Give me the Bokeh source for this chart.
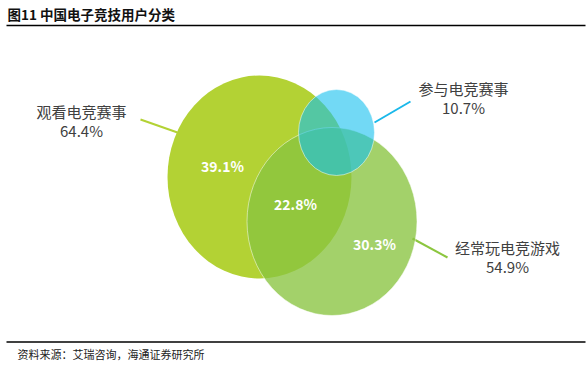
from bokeh.plotting import figure
from bokeh.models import Range1d
from bokeh.core.properties import value
from bokeh.embed import file_html
from bokeh.resources import INLINE

# ---- data ----
title_text = "图11 中国电子竞技用户分类"
source_text = "资料来源：艾瑞咨询，海通证券研究所"
segments = ["观看电竞赛事", "参与电竞赛事", "经常玩电竞游戏"]
segment_totals = [64.4, 10.7, 54.9]
region_values = [39.1, 22.8, 30.3]

# ---- layout (picture pixel coordinates) ----
W, H = 586, 368
ell_x = [259, 331.5, 336]
ell_y = [176.5, 221, 132]
ell_w = [184, 170, 76]
ell_h = [203, 188, 86]
ell_color = ["#b3d234", "#89c440", "#14c0ee"]
ell_alpha = [1.0, 0.78, 0.6]

lab_x = [81, 463, 507]
lab_y = [111, 88, 247]
pct_dy = 19
line_x0 = [140, 410, 447]
line_y0 = [119, 101, 257]
line_x1 = [177, 374, 412]
line_y1 = [132, 122, 238]
line_color = ["#b3d234", "#1ab8ea", "#8cc63f"]

reg_x = [222, 295, 374]
reg_y = [165, 203, 243]

p = figure(width=W, height=H, output_backend="svg", toolbar_location=None,
           x_range=Range1d(0, W), y_range=Range1d(H, 0),
           min_border=0, outline_line_color=None)
p.axis.visible = False
p.grid.visible = False
p.background_fill_color = "white"
p.border_fill_color = "white"

# leader lines
for i in range(3):
    p.segment(x0=[line_x0[i]], y0=[line_y0[i]], x1=[line_x1[i]], y1=[line_y1[i]],
              line_color=line_color[i], line_width=2)

# ellipses
for i in range(3):
    p.ellipse(x=[ell_x[i]], y=[ell_y[i]], width=[ell_w[i]], height=[ell_h[i]],
              fill_color=ell_color[i], fill_alpha=ell_alpha[i],
              line_color="white" if i > 0 else None, line_alpha=0.5, line_width=1)

font = value("Noto Sans CJK SC")

# region percentages
p.text(x=reg_x, y=reg_y, text=[f"{v}%" for v in region_values],
       text_font=font, text_font_size="14px", text_font_style="bold",
       text_color="white", text_align="center", text_baseline="middle")

# segment labels
p.text(x=lab_x, y=lab_y, text=segments, text_font=font, text_font_size="15px",
       text_color="#404040", text_align="center", text_baseline="middle")
p.text(x=lab_x, y=[y + pct_dy for y in lab_y], text=[f"{v}%" for v in segment_totals],
       text_font=font, text_font_size="15px",
       text_color="#404040", text_align="center", text_baseline="middle")

# title and source
p.text(x=[7], y=[13], text=[title_text], text_font=font, text_font_size="13.5px",
       text_font_style="bold", text_color="#111111", text_align="left", text_baseline="middle")
p.segment(x0=[6], y0=[25], x1=[585], y1=[25], line_color="black", line_width=1.6)
p.segment(x0=[6], y0=[341.5], x1=[585], y1=[341.5], line_color="black", line_width=1.6)
p.text(x=[17], y=[353.5], text=[source_text], text_font=font, text_font_size="11px",
       text_color="#222222", text_align="left", text_baseline="middle")

open("out.html", "w").write(file_html(p, INLINE))
